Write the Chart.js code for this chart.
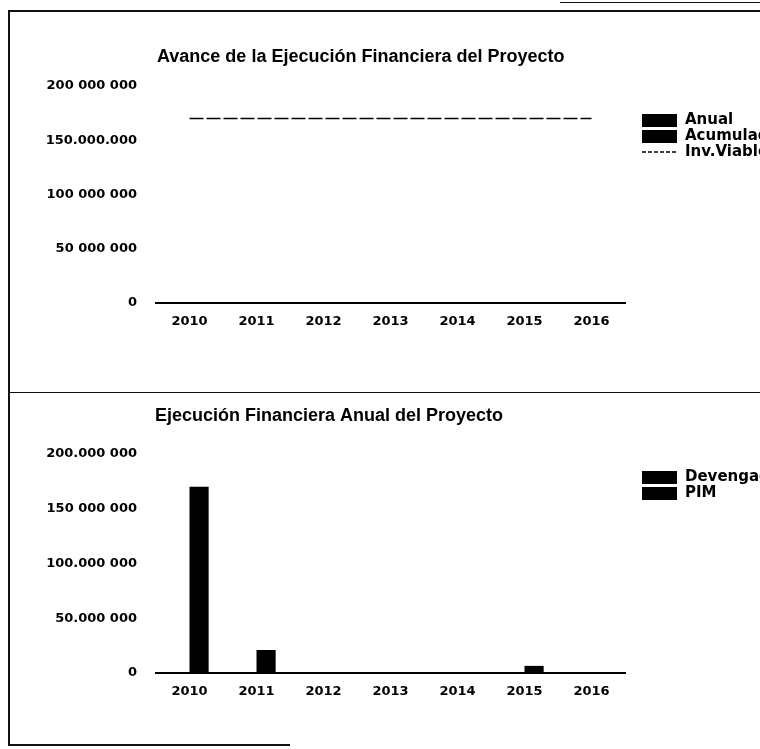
<!DOCTYPE html>
<html>
<head>
<meta charset="utf-8">
<script src="https://cdn.jsdelivr.net/npm/chart.js@4.4.1/dist/chart.umd.min.js"></script>
<style>
    body { margin: 0; background: #fff; width: 760px; height: 749px; overflow: hidden; position: relative; }
    canvas { position: absolute; left: 0; }
    .rule { position: absolute; background: #111; }
</style>
</head>
<body>
<!-- scanned page frame -->
<div class="rule" style="left:560px;top:2px;width:200px;height:1px"></div>
<div class="rule" style="left:8px;top:10px;width:752px;height:2px"></div>
<div class="rule" style="left:8px;top:10px;width:2px;height:735px"></div>
<div class="rule" style="left:8px;top:392px;width:752px;height:1px"></div>
<div class="rule" style="left:8px;top:744px;width:282px;height:2px"></div>

<canvas id="avanceChart" width="760" height="380" style="top:0"></canvas>
<canvas id="anualChart" width="760" height="357" style="top:392px"></canvas>

<script>
// Data
const years = ['2010', '2011', '2012', '2013', '2014', '2015', '2016'];

// top chart: progress
const anual = [0, 0, 0, 0, 0, 0, 0];
const acumulado = [0, 0, 0, 0, 0, 0, 0];
const invViable = [170000000, 170000000, 170000000, 170000000, 170000000, 170000000, 170000000];

// bottom chart: yearly execution
const devengado = [0, 0, 0, 0, 0, 0, 0];
const pim = [170000000, 21000000, 0, 0, 0, 6500000, 0];

// y tick labels as printed (scan shows mixed separators)
const tickValues = [0, 50000000, 100000000, 150000000, 200000000];
const avanceTickLabels = ['0', '50 000 000', '100 000 000', '150.000.000', '200 000 000'];
const anualTickLabels = ['0', '50.000 000', '100.000 000', '150 000 000', '200.000 000'];

const tickFont = { family: 'DejaVu Sans', weight: 'bold', size: 13 };

// title + side legend drawn like the original report
const reportDecor = {
    id: 'reportDecor',
    afterDraw(chart, args, opts) {
        const ctx = chart.ctx;
        ctx.save();
        ctx.fillStyle = '#000';
        ctx.strokeStyle = '#000';
        ctx.textBaseline = 'middle';
        ctx.font = 'bold 18px "Liberation Sans"';
        ctx.fillText(opts.title, opts.titleX, opts.titleY);

        ctx.font = 'bold 15px "DejaVu Sans"';
        chart.data.datasets.forEach((ds, i) => {
            const y = opts.legendY + i * opts.legendStep;
            if (ds.type === 'line') {
                ctx.lineWidth = 1.5;
                ctx.setLineDash([4, 2]);
                ctx.beginPath();
                ctx.moveTo(opts.legendX, y);
                ctx.lineTo(opts.legendX + 35, y);
                ctx.stroke();
                ctx.setLineDash([]);
            } else {
                ctx.fillRect(opts.legendX, y - 6, 35, 13);
            }
            ctx.fillText(ds.label, opts.legendX + 43, y);
        });
        ctx.restore();
    }
};

function buildOptions(tickLabels, decor, pad) {
    return {
        responsive: false,
        devicePixelRatio: 1,
        animation: false,
        layout: { padding: pad },
        plugins: {
            legend: { display: false },
            tooltip: { enabled: false },
            reportDecor: decor
        },
        scales: {
            x: {
                grid: { display: false, drawTicks: false },
                border: { display: true, color: '#000', width: 2 },
                ticks: { color: '#000', font: tickFont, padding: 11, maxRotation: 0 },
                afterFit: function(scale) { scale.height = 40; }
            },
            y: {
                min: 0,
                max: 200000000,
                grid: { display: false, drawTicks: false },
                border: { display: false },
                ticks: {
                    stepSize: 50000000,
                    color: '#000',
                    font: tickFont,
                    padding: 19,
                    callback: function(value) {
                        return tickLabels[tickValues.indexOf(value)];
                    }
                },
                afterFit: function(scale) { scale.width = 156; }
            }
        }
    };
}

new Chart(document.getElementById('avanceChart'), {
    type: 'bar',
    data: {
        labels: years,
        datasets: [
            { label: 'Anual', data: anual, backgroundColor: '#000', categoryPercentage: 0.6, barPercentage: 1 },
            { label: 'Acumulado', data: acumulado, backgroundColor: '#000', categoryPercentage: 0.6, barPercentage: 1 },
            {
                type: 'line',
                label: 'Inv.Viable',
                data: invViable,
                borderColor: '#000',
                borderWidth: 1.5,
                borderDash: [14, 3],
                pointRadius: 0,
                fill: false
            }
        ]
    },
    options: buildOptions(avanceTickLabels, {
        title: 'Avance de la Ejecución Financiera del Proyecto',
        titleX: 157, titleY: 57,
        legendX: 642, legendY: 120, legendStep: 16
    }, { top: 86, bottom: 37, left: 0, right: 135 }),
    plugins: [reportDecor]
});

new Chart(document.getElementById('anualChart'), {
    type: 'bar',
    data: {
        labels: years,
        datasets: [
            { label: 'Devengado', data: devengado, backgroundColor: '#000', categoryPercentage: 0.572, barPercentage: 1 },
            { label: 'PIM', data: pim, backgroundColor: '#000', categoryPercentage: 0.572, barPercentage: 1 }
        ]
    },
    options: buildOptions(anualTickLabels, {
        title: 'Ejecución Financiera Anual del Proyecto',
        titleX: 155, titleY: 24,
        legendX: 642, legendY: 85, legendStep: 16
    }, { top: 62, bottom: 36, left: 0, right: 135 }),
    plugins: [reportDecor]
});
</script>
</body>
</html>
